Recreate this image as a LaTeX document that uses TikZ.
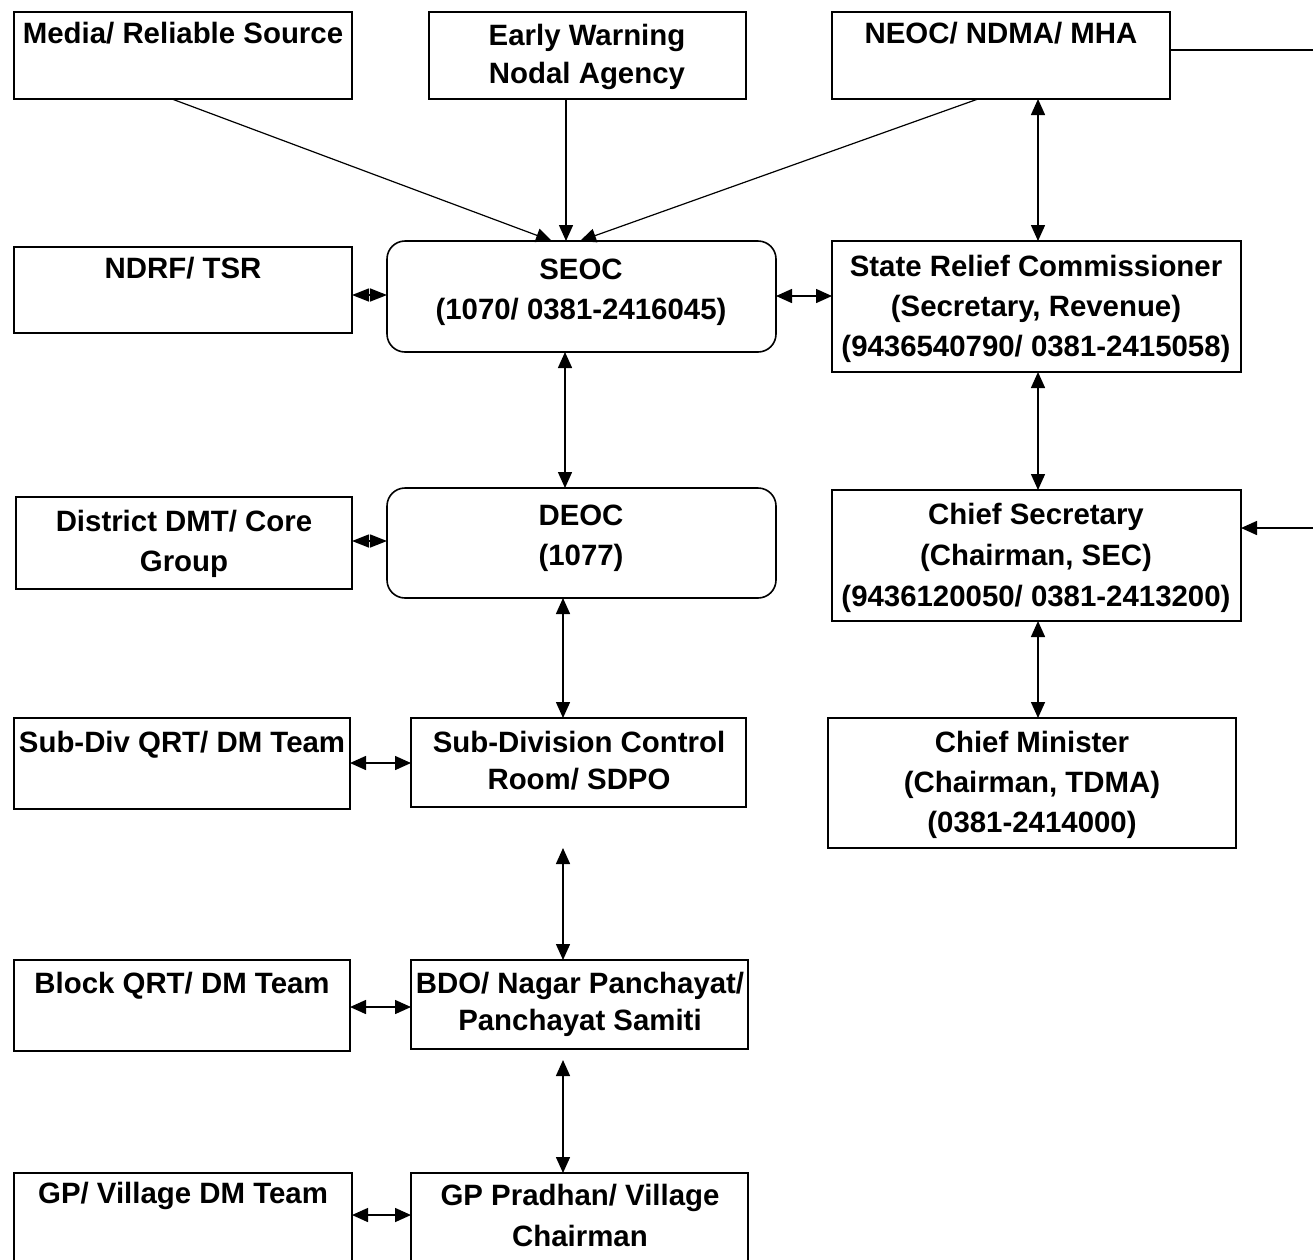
\documentclass[tikz,border=0pt]{standalone}
\usepackage{fontspec}
\setmainfont{Liberation Sans}
\usetikzlibrary{arrows.meta}
\newcommand\mybox[6]{\node[#6, minimum width={(#4-#2)*1pt}, minimum height={(#5-#3)*1pt}] (#1) at (#2,#3) {};}
\newcommand\mylbl[5]{\node[lbl, font=\bfseries\fontsize{29.4}{#4}\selectfont] (#1) at (#2,#3) {#5};}
\begin{document}
\begin{tikzpicture}[x=1pt,y=-1pt,
  bx/.style={draw=black, line width=1.6pt, inner sep=0pt, outer sep=0pt, anchor=north west},
  rbx/.style={bx, rounded corners=18pt},
  lbl/.style={anchor=north, inner sep=0pt, align=center},
  ln/.style={line width=1.5pt},
  con/.style={ln, -{Triangle[length=16pt,width=14pt]}},
  bicon/.style={ln, {Triangle[length=16pt,width=14pt]}-{Triangle[length=16pt,width=14pt]}},
  sbicon/.style={ln, {Triangle[length=17pt,width=13pt]}-{Triangle[length=17pt,width=13pt]}},
]
\useasboundingbox (0,0) rectangle (1313,1259);

% boxes
\mybox{media}{14}{12}{352}{99}{bx}
\mybox{ew}{429}{12}{746}{99}{bx}
\mybox{neoc}{832}{12}{1170}{99}{bx}
\mybox{ndrf}{14}{247}{352}{333}{bx}
\mybox{seoc}{387}{241}{776}{352}{rbx}
\mybox{src}{832}{241}{1241}{372}{bx}
\mybox{dmt}{16}{497}{352}{589}{bx}
\mybox{deoc}{387}{488}{776}{598}{rbx}
\mybox{cs}{832}{490}{1241}{621}{bx}
\mybox{sdqrt}{14}{718}{350}{809}{bx}
\mybox{sd}{411}{718}{746}{807}{bx}
\mybox{cm}{828}{718}{1236}{848}{bx}
\mybox{bqrt}{14}{960}{350}{1051}{bx}
\mybox{bdo}{411}{960}{748}{1049}{bx}
\mybox{gpv}{14}{1173}{352}{1266}{bx}
\mybox{gpp}{411}{1173}{748}{1266}{bx}

% labels
\mylbl{tmedia}{183}{22}{40}{Media/ Reliable Source}
\mylbl{tew}{587}{24}{38}{Early Warning\\Nodal Agency}
\mylbl{tneoc}{1001}{22}{40}{NEOC/ NDMA/ MHA}
\mylbl{tndrf}{183}{257}{40}{NDRF/ TSR}
\mylbl{tseoc}{581}{259}{40}{SEOC\\(1070/ 0381-2416045)}
\mylbl{tsrc}{1036}{255}{40}{State Relief Commissioner\\(Secretary, Revenue)\\(9436540790/ 0381-2415058)}
\mylbl{tdmt}{184}{510}{40}{District DMT/ Core\\Group}
\mylbl{tdeoc}{581}{505}{40}{DEOC\\(1077)}
\mylbl{tcs}{1036}{503}{41}{Chief Secretary\\(Chairman, SEC)\\(9436120050/ 0381-2413200)}
\mylbl{tsdqrt}{182}{731}{40}{Sub-Div QRT/ DM Team}
\mylbl{tsd}{579}{731}{37}{Sub-Division Control\\Room/ SDPO}
\mylbl{tcm}{1032}{731}{40}{Chief Minister\\(Chairman, TDMA)\\(0381-2414000)}
\mylbl{tbqrt}{182}{972}{40}{Block QRT/ DM Team}
\mylbl{tbdo}{580}{972}{37}{BDO/ Nagar Panchayat/\\Panchayat Samiti}
\mylbl{tgpv}{183}{1182}{40}{GP/ Village DM Team}
\mylbl{tgpp}{580}{1184}{41}{GP Pradhan/ Village\\Chairman}

% coordinates
\coordinate (sdgap) at (563,848);
\coordinate (bdogap) at (563,1060);
\coordinate (redgeA) at (1313,50);
\coordinate (redgeB) at (1313,528);

% connectors
\draw[con, line width=1.2pt] (172,0 |- media.south) -- (552,0 |- seoc.north);
\draw[con] (566,0 |- ew.south) -- (566,0 |- seoc.north);
\draw[con, line width=1.2pt] (978,0 |- neoc.south) -- (580,0 |- seoc.north);
\draw[bicon] (1038,0 |- neoc.south) -- (1038,0 |- src.north);
\draw[sbicon] (ndrf.east |- 0,295) -- (seoc.west |- 0,295);
\draw[bicon] (seoc.east |- 0,296) -- (src.west |- 0,296);
\draw[bicon] (565,0 |- seoc.south) -- (565,0 |- deoc.north);
\draw[bicon] (1038,0 |- src.south) -- (1038,0 |- cs.north);
\draw[sbicon] (dmt.east |- 0,541) -- (deoc.west |- 0,541);
\draw[bicon] (563,0 |- deoc.south) -- (563,0 |- sd.north);
\draw[bicon] (1038,0 |- cs.south) -- (1038,0 |- cm.north);
\draw[bicon] (sdqrt.east |- 0,763) -- (sd.west |- 0,763);
\draw[bicon] (sdgap) -- (563,0 |- bdo.north);
\draw[bicon] (bqrt.east |- 0,1007) -- (bdo.west |- 0,1007);
\draw[bicon] (bdogap) -- (563,0 |- gpp.north);
\draw[bicon] (gpv.east |- 0,1215) -- (gpp.west |- 0,1215);
\draw[ln] (neoc.east |- redgeA) -- (redgeA);
\draw[con] (redgeB) -- (cs.east |- redgeB);
\end{tikzpicture}
\end{document}
